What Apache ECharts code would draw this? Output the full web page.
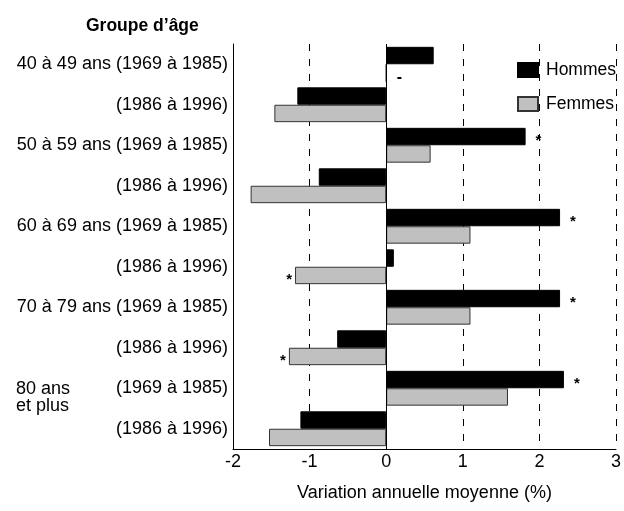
<!DOCTYPE html>
<html>
<head>
<meta charset="utf-8">
<script src="https://cdn.jsdelivr.net/npm/echarts@6/dist/echarts.min.js"></script>
<style>
  html, body { margin: 0; padding: 0; background: #fff; }
  #chart { width: 624px; height: 511px; }
</style>
</head>
<body>
<div id="chart"></div>
<script>
// categories, top to bottom
const categories = [
  '40 à 49 ans (1969 à 1985)',
  '(1986 à 1996)',
  '50 à 59 ans (1969 à 1985)',
  '(1986 à 1996)',
  '60 à 69 ans (1969 à 1985)',
  '(1986 à 1996)',
  '70 à 79 ans (1969 à 1985)',
  '(1986 à 1996)',
  '(1969 à 1985)',
  '(1986 à 1996)'
]
const hommes = [0.62, -1.16, 1.82, -0.88, 2.27, 0.10, 2.27, -0.64, 2.32, -1.12]
const femmes = [0, -1.46, 0.58, -1.77, 1.10, -1.19, 1.10, -1.27, 1.59, -1.53]
// significance marks next to bars
const hommesMarks = ['', '', '*', '', '*', '', '*', '', '*', '']
const femmesMarks = ['-', '', '', '', '', '*', '', '*', '', '']
const xTicks = [-2, -1, 0, 1, 2, 3]

const FONT = '"Liberation Sans", Arial, sans-serif'

function withMarks(values, marks) {
  return values.map((v, i) => {
    const item = { value: v }
    if (marks[i]) {
      const isStar = marks[i] === '*'
      item.label = {
        show: true,
        formatter: marks[i],
        position: v < 0 ? 'left' : 'right',
        distance: isStar ? (v < 0 ? 3 : 10) : 10,
        color: '#000',
        fontFamily: FONT,
        fontSize: isStar ? 15 : 16,
        fontWeight: 'bold',
        offset: [0, isStar ? 4 : 5]
      }
    }
    return item
  })
}

const chart = echarts.init(document.getElementById('chart'))
chart.setOption({
  backgroundColor: '#fff',
  animation: false,
  title: {
    text: 'Groupe d\u2019âge',
    left: 81,
    top: 12,
    textStyle: { fontFamily: FONT, fontSize: 17.5, fontWeight: 'bold', color: '#000' }
  },
  legend: {
    orient: 'vertical',
    left: 512,
    top: 56,
    icon: 'rect',
    itemWidth: 20,
    itemHeight: 14,
    itemGap: 16,
    textStyle: { fontFamily: FONT, fontSize: 17.5, color: '#000', padding: [0, 0, 0, 3] },
    data: ['Hommes', 'Femmes']
  },
  grid: { left: 233, right: 6, top: 44, bottom: 62, containLabel: false },
  xAxis: {
    type: 'value',
    min: -2,
    max: 3,
    interval: 1,
    name: 'Variation annuelle moyenne (%)',
    nameLocation: 'middle',
    nameGap: 35,
    nameTextStyle: { fontFamily: FONT, fontSize: 18, color: '#000' },
    axisLine: { show: true, lineStyle: { color: '#000', width: 1 } },
    axisTick: { show: false },
    axisLabel: {
      fontFamily: FONT, fontSize: 18, color: '#000', margin: 4,
      formatter: (v) => xTicks.includes(v) ? String(v) : ''
    },
    splitLine: { show: true, lineStyle: { color: '#000', width: 1, type: [7, 8] } }
  },
  yAxis: {
    type: 'category',
    inverse: true,
    data: categories,
    axisLine: { show: true, onZero: false, lineStyle: { color: '#000', width: 1 } },
    axisTick: { show: false },
    axisLabel: { fontFamily: FONT, fontSize: 18, color: '#000', margin: 5 }
  },
  graphic: [
    {
      type: 'text',
      left: 16,
      top: 380,
      style: { text: '80 ans\net plus', font: '18px ' + FONT, fill: '#000', lineHeight: 17 }
    }
  ],
  series: [
    {
      name: 'Hommes',
      type: 'bar',
      barGap: '0%',
      barCategoryGap: '14%',
      data: withMarks(hommes, hommesMarks),
      itemStyle: { color: '#000', borderColor: '#000', borderWidth: 1 },
      markLine: {
        silent: true,
        symbol: 'none',
        label: { show: false },
        lineStyle: { color: '#000', width: 1, type: 'solid' },
        data: [{ xAxis: 0 }]
      }
    },
    {
      name: 'Femmes',
      type: 'bar',
      data: withMarks(femmes, femmesMarks),
      itemStyle: { color: '#c0c0c0', borderColor: '#333', borderWidth: 1 }
    }
  ]
})
</script>
</body>
</html>
